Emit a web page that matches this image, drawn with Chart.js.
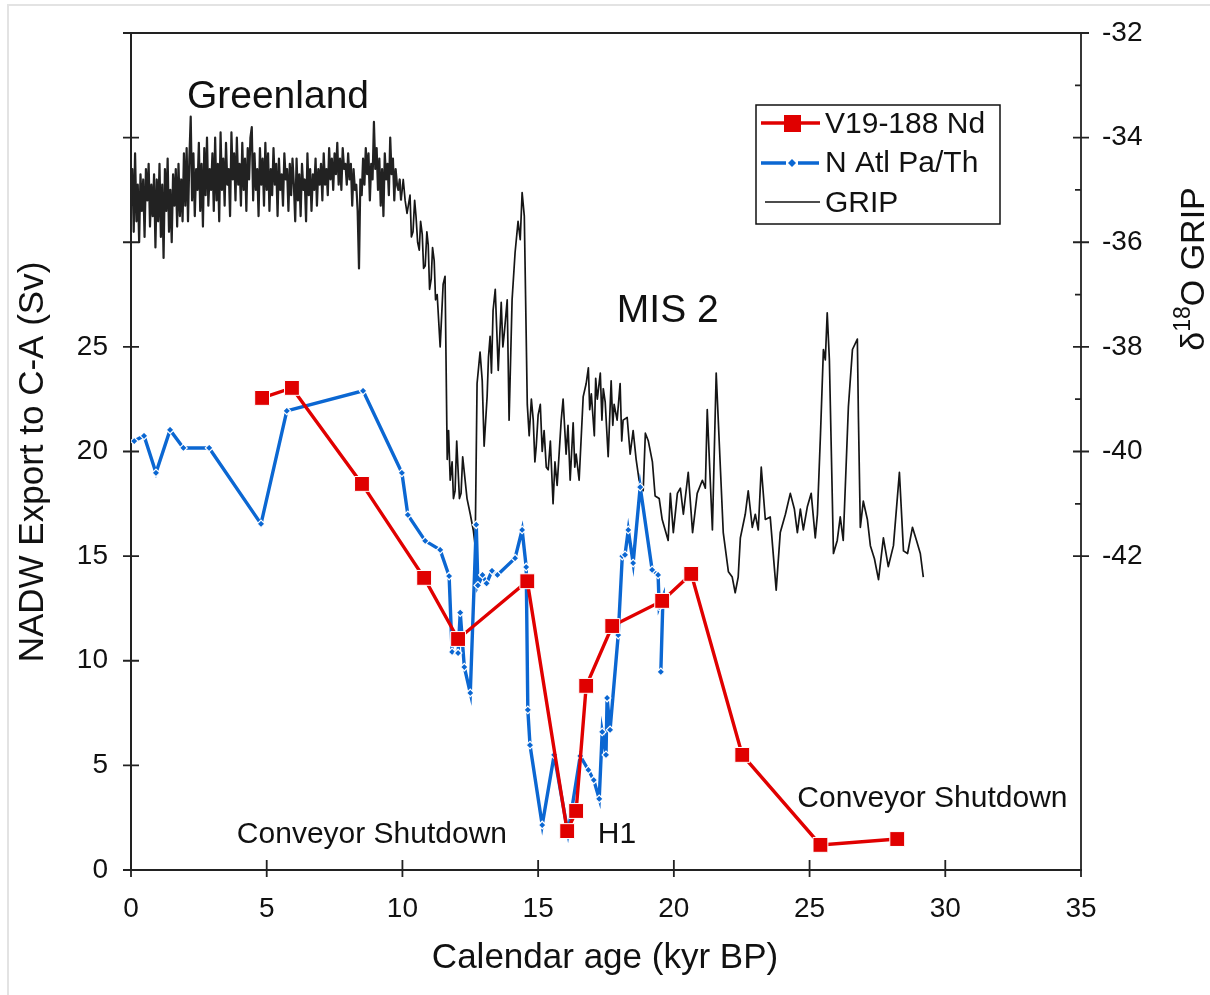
<!DOCTYPE html>
<html>
<head>
<meta charset="utf-8">
<script src="https://cdn.jsdelivr.net/npm/chart.js@4.4.0/dist/chart.umd.min.js"></script>
<style>
body { margin: 0; background: #fff; }
#wrap { position: relative; width: 1210px; height: 995px; overflow: hidden; }
#frame { position: absolute; left: 7px; top: 4px; width: 1220px; height: 1000px; border-left: 2px solid #e3e3e3; border-top: 2px solid #e3e3e3; }
canvas { position: absolute; left: 0; top: 0; }
</style>
</head>
<body>
<div id="wrap"><div id="frame"></div><canvas id="cntx_nadw" width="1210" height="995"></canvas></div>
<script>
const FONT = "'Liberation Sans', Arial, Helvetica, sans-serif";

// V19-188 Nd based NADW export (Sv)
const nd_age = [4.83, 5.93, 8.51, 10.8, 12.05, 14.6, 16.07, 16.4, 16.77, 17.73, 19.57, 20.64, 22.52, 25.4, 28.23];
const nd_sv = [22.56, 23.04, 18.45, 13.96, 11.04, 13.8, 1.86, 2.82, 8.8, 11.66, 12.86, 14.15, 5.5, 1.2, 1.48];

// North Atlantic Pa/Th stack (Sv)
const pa_age = [0.12, 0.48, 0.92, 1.44, 1.93, 2.88, 4.79, 5.74, 8.55, 9.98, 10.2, 10.84, 11.39, 11.72, 11.83,
	12.05, 12.13, 12.28, 12.5, 12.72, 12.78, 12.95, 13.1, 13.3, 13.5, 14.15, 14.41, 14.56, 14.62, 14.7,
	15.15, 15.59, 16.1, 16.55, 16.85, 17.05, 17.25, 17.36, 17.5, 17.54, 17.65, 17.95, 18.1, 18.2, 18.32,
	18.5, 18.76, 19.2, 19.42, 19.46, 19.6, 19.52];
const pa_sv = [20.5, 20.75, 18.98, 21.03, 20.17, 20.17, 16.54, 21.94, 22.9, 18.98, 16.97, 15.73, 15.3, 14.05, 10.42,
	10.37, 12.3, 9.7, 8.46, 16.5, 13.6, 14.1, 13.7, 14.3, 14.1, 14.9, 16.25, 14.48, 7.65, 5.97,
	2.15, 5.5, 1.77, 5.45, 4.78, 4.3, 3.4, 6.6, 5.5, 8.22, 6.7, 11.23, 15.0, 15.06, 16.25,
	14.67, 18.3, 14.34, 14.1, 12.57, 13.05, 9.47];

// GRIP d18O, Holocene part sampled every 0.05 kyr from 0 kyr
const grip_holo_step = 0.05;
const grip_holo = [
	-35.3, -34.6, -35.8, -34.3, -35.6, -34.9, -36.0, -34.7, -35.4, -34.8, -35.9, -34.6, -35.2, -34.5, -35.7, -34.9, -35.5, -34.7, -36.1, -34.8,
	-35.6, -34.5, -35.9, -34.9, -36.3, -34.6, -35.4, -34.4, -35.8, -35.0, -36.0, -34.7, -35.3, -34.6, -35.7, -34.5, -35.5, -34.8, -35.6, -34.3,
	-35.3, -34.2, -35.6, -34.4, -33.6, -35.2, -34.3, -35.5, -34.6, -35.0, -34.1, -35.4, -34.5, -35.7, -34.2, -35.1, -34.0, -35.3, -34.6, -35.0,
	-34.3, -35.4, -34.0, -35.2, -34.5, -35.6, -33.9, -35.0, -34.4, -35.3, -34.1, -34.9, -34.6, -35.5, -33.9, -34.8, -34.3, -35.2, -34.0, -34.9,
	-34.5, -35.3, -34.1, -35.0, -34.4, -35.4, -34.2, -34.8, -34.0, -33.8, -35.2, -34.3, -35.0, -34.6, -35.5, -34.2, -34.9, -34.4, -35.3, -34.1,
	-35.0, -34.3, -35.4, -34.6, -35.1, -34.2, -34.9, -34.5, -35.5, -34.4, -35.0, -34.7, -35.3, -34.3, -34.8, -34.6, -35.4, -34.5, -35.1, -34.4,
	-34.9, -35.6, -34.4, -35.2, -34.7, -35.5, -34.5, -35.0, -34.8, -35.6, -34.3, -35.1, -34.6, -35.4, -34.7, -35.0, -34.4, -35.3, -34.6, -34.9,
	-34.5, -35.2, -34.3, -34.9, -34.6, -35.1, -34.2, -34.8, -34.4, -35.0, -34.3, -34.7, -34.1, -34.9, -34.4, -35.0, -34.2, -34.6, -34.5, -34.9,
	-34.3, -34.8, -34.5, -35.3, -34.6, -35.0, -34.9, -35.4, -36.5, -34.8, -35.1, -34.4, -34.9, -34.2, -34.7, -34.3, -35.2, -34.5, -34.8, -33.7,
	-34.6, -34.2, -35.0, -34.4, -35.3, -34.6, -35.5, -34.3, -34.8, -34.5, -35.1, -34.0, -34.7, -34.4, -35.2, -34.6, -34.9, -35.0, -34.8, -35.2
];

// GRIP d18O, deglaciation and MIS 2
const grip_age = [10.03, 10.1, 10.17, 10.28, 10.33, 10.39, 10.45, 10.5, 10.56, 10.62, 10.67, 10.73, 10.78, 10.84, 10.9, 10.95,
	11.0, 11.06, 11.11, 11.17, 11.22, 11.28, 11.39, 11.5, 11.57,
	11.65, 11.7, 11.76, 11.83, 11.88, 11.94, 12.0, 12.05, 12.1, 12.16, 12.22, 12.27, 12.38, 12.5, 12.61, 12.68, 12.75, 12.86, 12.94, 13.01, 13.12,
	13.17, 13.23, 13.28, 13.34, 13.42, 13.47, 13.53, 13.64, 13.7, 13.75, 13.86, 13.93, 14.04, 14.15, 14.26, 14.34, 14.41, 14.49, 14.6, 14.67,
	14.75, 14.82, 14.88, 14.93, 15.0, 15.08, 15.15, 15.22, 15.3, 15.37, 15.45, 15.55, 15.62, 15.7, 15.85, 15.92, 16.03, 16.1, 16.18, 16.29, 16.35, 16.4, 16.51, 16.66, 16.77,
	16.85, 16.9, 16.96, 17.07, 17.12, 17.18, 17.29, 17.35, 17.4, 17.47, 17.58, 17.69, 17.75, 17.8, 17.91, 18.02, 18.08, 18.13, 18.28, 18.39, 18.5,
	18.61, 18.72, 18.87, 18.95, 19.06, 19.21, 19.31, 19.46, 19.57, 19.68, 19.79, 19.87, 19.98, 20.13, 20.24, 20.35,
	20.53, 20.69, 20.86, 21.05, 21.16, 21.23, 21.34, 21.42, 21.56, 21.67, 21.82, 22.01, 22.15, 22.26, 22.37, 22.45,
	22.63, 22.74, 22.89, 23.0, 23.11, 23.22, 23.37, 23.55, 23.77, 23.92, 24.11, 24.29, 24.44, 24.55, 24.66, 24.77,
	24.92, 25.06, 25.21, 25.29, 25.4, 25.51, 25.58, 25.65, 25.73, 25.84, 25.88, 26.02, 26.13, 26.24, 26.43, 26.58,
	26.76, 26.8, 26.87, 26.98, 27.13, 27.24, 27.39, 27.54, 27.72, 27.9, 28.09, 28.31, 28.46, 28.61, 28.79, 28.94,
	29.08, 29.19];
const grip_d18o = [-34.8, -35.2, -35.45, -35.1, -35.9, -35.8, -35.2, -35.5, -36.0, -36.15, -35.6, -35.85, -36.5, -36.45, -35.8, -36.05,
	-36.9, -36.7, -36.1, -36.35, -37.1, -37.0, -38.0, -36.8, -36.65,
	-40.15, -39.6, -40.55, -40.2, -40.9, -40.75, -39.8, -40.35, -40.9, -40.8, -40.1, -40.35, -40.9, -41.2, -41.5, -41.8, -38.7, -38.1, -38.65, -39.9, -38.95,
	-38.2, -37.8, -38.5, -37.3, -36.9, -37.6, -38.45, -37.15, -38.0, -37.75, -37.1, -39.4, -37.1, -36.2, -35.6, -35.95, -35.05, -35.5, -39.1, -39.7,
	-39.0, -39.4, -40.2, -39.9, -39.3, -39.1, -40.0, -39.6, -40.3, -40.35, -39.8, -41.0, -40.2, -40.65, -39.4, -39.0, -40.05, -39.5, -40.55, -39.45, -40.3, -40.05, -40.55, -38.95, -38.7,
	-38.4, -39.2, -38.9, -39.7, -38.6, -39.0, -38.5, -39.4, -38.8, -39.05, -40.1, -38.65, -39.5, -39.1, -39.4, -38.7, -39.8, -39.4, -39.35, -40.05, -39.6,
	-40.15, -40.55, -40.75, -39.65, -39.8, -40.2, -40.85, -40.9, -41.3, -41.5, -41.7, -40.8, -41.55, -40.8, -40.7, -41.2,
	-40.4, -41.55, -40.8, -40.55, -40.7, -39.2, -40.55, -41.5, -38.5, -39.8, -41.55, -42.3, -42.4, -42.7, -42.4, -41.65,
	-41.2, -40.75, -41.45, -41.2, -41.5, -40.3, -41.3, -41.25, -42.65, -41.55, -41.2, -40.8, -41.1, -41.55, -41.1, -41.5,
	-41.05, -40.8, -41.65, -41.2, -39.7, -38.05, -38.25, -37.35, -38.25, -40.95, -41.95, -41.7, -41.25, -41.7, -39.15, -38.05,
	-37.85, -39.35, -41.45, -40.95, -41.3, -41.8, -42.05, -42.45, -41.65, -42.2, -41.8, -40.4, -41.9, -41.95, -41.45, -41.7,
	-41.95, -42.4];

// in-plot annotations, placed in data units (kyr, Sv)
const notes = [
	{ text: "Greenland", age: 2.06, sv: 36.4, size: 39 },
	{ text: "MIS 2", age: 17.9, sv: 26.2, size: 39 },
	{ text: "Conveyor Shutdown", age: 3.9, sv: 1.3, size: 30 },
	{ text: "H1", age: 17.2, sv: 1.3, size: 30 },
	{ text: "Conveyor Shutdown", age: 24.55, sv: 3.0, size: 30 },
];

const RED = "#e00000";
const BLUE = "#0b67d2";

const toPoints = (xs, ys) => xs.map((x, i) => ({ x: x, y: ys[i] }));
const gripHolo = grip_holo.map((v, i) => ({ x: +(i * grip_holo_step).toFixed(2), y: v }));
const gripLate = [gripHolo[gripHolo.length - 1]].concat(toPoints(grip_age, grip_d18o));

// tick marks that cross the axes, and the plot frame
const axisMarks = {
	id: "axisMarks",
	afterDraw(chart) {
		const { ctx, chartArea: a, scales } = chart;
		ctx.save();
		ctx.strokeStyle = "#222";
		ctx.lineWidth = 1.8;
		ctx.beginPath();
		ctx.moveTo(a.left - 7, a.top);
		ctx.lineTo(a.right + 1, a.top);
		ctx.moveTo(a.right, a.top);
		ctx.lineTo(a.right, a.bottom + 1);
		scales.y.ticks.forEach((t) => {
			const py = scales.y.getPixelForValue(t.value);
			ctx.moveTo(a.left - 8, py);
			ctx.lineTo(a.left + 8, py);
		});
		scales.x.ticks.forEach((t) => {
			const px = scales.x.getPixelForValue(t.value);
			ctx.moveTo(px, a.bottom + 7);
			ctx.lineTo(px, a.bottom - 10);
		});
		scales.y2.ticks.forEach((t) => {
			if (t.value < -42) return;
			const py = scales.y2.getPixelForValue(t.value);
			ctx.moveTo(a.right - 8, py);
			ctx.lineTo(a.right + 8, py);
			if (t.value > -42) {
				const pm = scales.y2.getPixelForValue(t.value - 1);
				ctx.moveTo(a.right - 6, pm);
				ctx.lineTo(a.right, pm);
			}
		});
		ctx.stroke();
		ctx.restore();
	},
};

// annotations, legend box and axis titles
const textLayer = {
	id: "textLayer",
	afterDraw(chart) {
		const { ctx, scales } = chart;
		ctx.save();
		ctx.fillStyle = "#111";
		ctx.textBaseline = "alphabetic";
		ctx.textAlign = "left";
		notes.forEach((n) => {
			ctx.font = n.size + "px " + FONT;
			ctx.fillText(n.text, scales.x.getPixelForValue(n.age), scales.y.getPixelForValue(n.sv));
		});

		// legend
		ctx.strokeStyle = "#111";
		ctx.lineWidth = 1.5;
		ctx.strokeRect(756, 105, 244, 119);
		ctx.font = "30px " + FONT;
		ctx.textBaseline = "middle";
		ctx.lineWidth = 3.4;
		ctx.strokeStyle = RED;
		ctx.beginPath();
		ctx.moveTo(761, 123);
		ctx.lineTo(820, 123);
		ctx.stroke();
		ctx.fillStyle = RED;
		ctx.fillRect(784, 115, 17, 17);
		ctx.strokeStyle = BLUE;
		ctx.beginPath();
		ctx.moveTo(761, 163);
		ctx.lineTo(786, 163);
		ctx.moveTo(798, 163);
		ctx.lineTo(819, 163);
		ctx.stroke();
		ctx.fillStyle = BLUE;
		ctx.beginPath();
		ctx.moveTo(792, 159);
		ctx.lineTo(796, 163);
		ctx.lineTo(792, 167);
		ctx.lineTo(788, 163);
		ctx.closePath();
		ctx.fill();
		ctx.strokeStyle = "#111";
		ctx.lineWidth = 1.5;
		ctx.beginPath();
		ctx.moveTo(765, 202);
		ctx.lineTo(820, 202);
		ctx.stroke();
		ctx.fillStyle = "#111";
		ctx.fillText("V19-188 Nd", 825, 125);
		ctx.fillText("N Atl Pa/Th", 825, 164);
		ctx.fillText("GRIP", 825, 204);

		// x title
		ctx.textBaseline = "alphabetic";
		ctx.textAlign = "center";
		ctx.font = "35px " + FONT;
		ctx.fillText("Calendar age (kyr BP)", 605, 968);

		// left title
		ctx.save();
		ctx.translate(43, 462);
		ctx.rotate(-Math.PI / 2);
		ctx.fillText("NADW Export to C-A (Sv)", 0, 0);
		ctx.restore();

		// right title with superscript
		ctx.save();
		ctx.translate(1204, 269);
		ctx.rotate(-Math.PI / 2);
		ctx.textAlign = "left";
		const big = "34px " + FONT, small = "23px " + FONT;
		ctx.font = big;
		const wd = ctx.measureText("\u03b4").width;
		const wr = ctx.measureText("O GRIP").width;
		ctx.font = small;
		const ws = ctx.measureText("18").width;
		const s = -(wd + ws + wr) / 2;
		ctx.font = big;
		ctx.fillText("\u03b4", s, 0);
		ctx.font = small;
		ctx.fillText("18", s + wd, -14);
		ctx.font = big;
		ctx.fillText("O GRIP", s + wd + ws, 0);
		ctx.restore();
		ctx.restore();
	},
};

const tickFont = { size: 28, family: FONT };

new Chart(document.querySelector("#cntx_nadw"), {
	type: "scatter",
	data: {
		datasets: [
			{
				label: "V19-188 Nd",
				data: toPoints(nd_age, nd_sv),
				showLine: true,
				borderColor: RED,
				borderWidth: 3.4,
				pointStyle: "rect",
				pointRadius: 10.5,
				pointBackgroundColor: RED,
				pointBorderColor: "#fff",
				pointBorderWidth: 1,
				yAxisID: "y",
				order: 1,
			},
			{
				label: "N Atl Pa/Th",
				data: toPoints(pa_age, pa_sv),
				showLine: true,
				borderColor: BLUE,
				borderWidth: 3.4,
				pointStyle: "rectRot",
				pointRadius: 3.8,
				pointBackgroundColor: BLUE,
				pointBorderColor: "#fff",
				pointBorderWidth: 1.2,
				yAxisID: "y",
				order: 2,
			},
			{
				label: "GRIP",
				data: gripHolo,
				showLine: true,
				borderColor: "#222",
				borderWidth: 2.2,
				borderJoinStyle: "round",
				pointRadius: 0,
				yAxisID: "y2",
				order: 3,
			},
			{
				label: "GRIP",
				data: gripLate,
				showLine: true,
				borderColor: "#151515",
				borderWidth: 1.7,
				borderJoinStyle: "round",
				pointRadius: 0,
				yAxisID: "y2",
				order: 3,
			},
		],
	},
	options: {
		responsive: false,
		animation: false,
		events: [],
		layout: { padding: { top: 33, left: 0, right: 0, bottom: 0 } },
		plugins: { legend: { display: false }, tooltip: { enabled: false } },
		scales: {
			x: {
				type: "linear",
				min: 0,
				max: 35,
				ticks: { stepSize: 5, font: tickFont, color: "#111", padding: 14, maxRotation: 0, autoSkip: false },
				grid: { display: false, drawTicks: true, tickLength: 8 },
				border: { display: true, color: "#222", width: 2 },
				afterFit: (s) => { s.height = 125; },
			},
			y: {
				position: "left",
				min: 0,
				max: 40,
				ticks: {
					stepSize: 5,
					font: tickFont,
					color: "#111",
					padding: 15,
					autoSkip: false,
					callback: (v) => (v <= 25 ? String(v) : ""),
				},
				grid: { display: false, drawTicks: true, tickLength: 8 },
				border: { display: true, color: "#222", width: 2 },
				afterFit: (s) => { s.width = 131; },
			},
			y2: {
				position: "right",
				min: -48,
				max: -32,
				ticks: {
					stepSize: 2,
					font: tickFont,
					color: "#111",
					padding: 13,
					autoSkip: false,
					callback: (v) => (v >= -42 ? String(v) : ""),
				},
				grid: { display: false, drawTicks: true, tickLength: 8 },
				border: { display: false },
				afterFit: (s) => { s.width = 129; },
			},
		},
	},
	plugins: [axisMarks, textLayer],
});
</script>
</body>
</html>
